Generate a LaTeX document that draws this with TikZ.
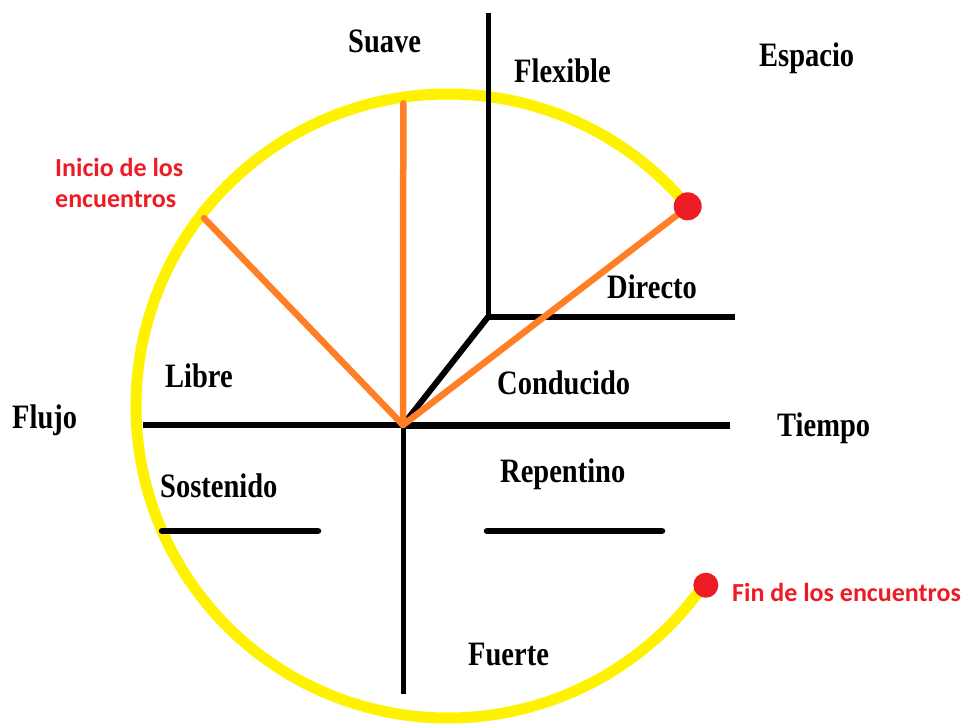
\documentclass[tikz,border=0pt]{standalone}
\usepackage{fontspec}
\usepackage{graphicx}
\setmainfont{Liberation Serif}
\newfontfamily\calib{Carlito}
\definecolor{ylw}{RGB}{255,242,0}
\definecolor{org}{RGB}{255,127,39}
\definecolor{rd}{RGB}{237,28,36}
\newcommand{\tallbox}[1]{\scalebox{1}[1.2]{#1}}
\begin{document}
\begin{tikzpicture}[x=1pt,y=-1pt,
  lbl/.style={inner sep=0pt, anchor=base west, font=\fontsize{28.5}{30}\selectfont\bfseries},
  redlbl/.style={inner sep=0pt, anchor=base west, text=rd, font=\calib\fontsize{26}{32}\selectfont\bfseries},
  axisline/.style={line width=5pt, black},
  thickline/.style={line width=6pt, black},
  barline/.style={line width=6.5pt, black, line cap=round},
  ray/.style={line width=6.5pt, org},
  rim/.style={line width=11pt, ylw},
  dot/.style={fill=rd}
]
\useasboundingbox (0,0) rectangle (968,727);

% key points
\coordinate (C) at (448,406);
\coordinate (O) at (403,425);
\coordinate (J) at (488,317);
\coordinate (VT) at (488,13);
\coordinate (HR) at (735,317);
\coordinate (XL) at (143,425);
\coordinate (XR) at (730,425);
\coordinate (YB) at (403,694);
\coordinate (B1a) at (162,531);
\coordinate (B1b) at (318,531);
\coordinate (B2a) at (487,531);
\coordinate (B2b) at (662,531);
\path (C) ++(-39.8:312) coordinate (Dir);
\path (C) ++(34.8:314) coordinate (Fin);
\path (C) ++(-39.8:300) coordinate (DirIn);
\path (C) ++(-98.4:306) coordinate (Suv);
\path (C) ++(-142.4:308) coordinate (Ini);

% yellow arc
\draw[rim] (Dir) arc[start angle=-39.8, end angle=-325.5, radius=312];

% black axes
\draw[axisline] (VT) -- (J);
\draw[thickline] (J) -- (HR);
\draw[thickline] (J) -- (O);
\draw[thickline] (XL) -- (O);
\draw[line width=7pt] (O) -- (XR);
\draw[axisline] (O) -- (YB);
\draw[barline] (B1a) -- (B1b);
\draw[barline] (B2a) -- (B2b);

% orange rays
\draw[ray, line cap=round] (O) -- (Suv);
\draw[ray, line cap=round] (O) -- (Ini);
\draw[ray, line cap=round] (O) -- (DirIn);

% red dots
\fill[dot] (Dir) circle[radius=14];
\fill[dot] (Fin) circle[radius=12.5];

% labels
\node[lbl] (suave) at (348,53) {\tallbox{Suave}};
\node[lbl] (flexible) at (514,83) {\tallbox{Flexible}};
\node[lbl] (espacio) at (759,67) {\tallbox{Espacio}};
\node[lbl] (directo) at (607,298) {\tallbox{Directo}};
\node[lbl] (conducido) at (497,394) {\tallbox{Conducido}};
\node[lbl] (tiempo) at (777,436) {\tallbox{Tiempo}};
\node[lbl] (repentino) at (500,482) {\tallbox{Repentino}};
\node[lbl] (fuerte) at (468,665) {\tallbox{Fuerte}};
\node[lbl] (libre) at (165,387) {\tallbox{Libre}};
\node[lbl] (flujo) at (12,428) {\tallbox{Flujo}};
\node[lbl] (sostenido) at (160,497) {\tallbox{Sostenido}};

\node[redlbl] (inicio1) at (55,177) {Inicio de los};
\node[redlbl] (inicio2) at (55,208) {encuentros};
\node[redlbl] (fin) at (732,601) {Fin de los encuentros};
\end{tikzpicture}
\end{document}
